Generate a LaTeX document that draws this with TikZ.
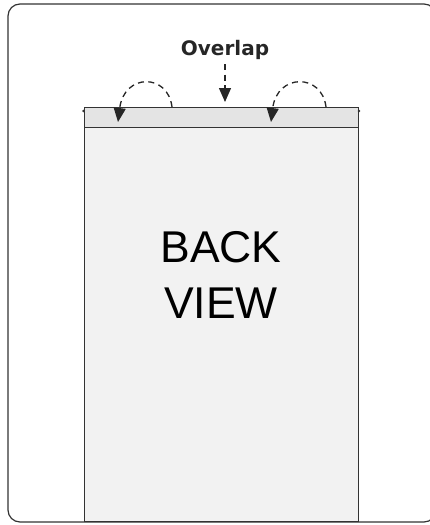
\documentclass[tikz,border=0pt]{standalone}
\usepackage{fontspec}
\setmainfont{Liberation Sans}
\newfontfamily\lblfont{DejaVu Sans}
\usetikzlibrary{arrows.meta}
\definecolor{edge}{HTML}{333333}
\definecolor{panelfill}{HTML}{F2F2F2}
\definecolor{stripfill}{HTML}{E4E4E4}
\begin{document}
\begin{tikzpicture}[x=1pt,y=-1pt,
  frameline/.style={draw=edge,line width=1.2pt,rounded corners=12pt},
  panelbox/.style={draw=edge,line width=1.4pt,fill=panelfill},
  stripbox/.style={draw=edge,line width=1.4pt,fill=stripfill},
  dasharrow/.style={draw=black!85,line width=1.3pt,dash pattern=on 6pt off 4.5pt,-{Triangle[length=14pt,width=12pt]}},
  bigtext/.style={font=\fontsize{44.5}{56}\selectfont,text=black,inner sep=0pt,anchor=base},
  labeltext/.style={font=\lblfont\bfseries\fontsize{20}{22}\selectfont,text=black!85,inner sep=0pt,anchor=base}
]
\useasboundingbox (0,0) rectangle (429,525);
\draw[frameline] (8,4) rectangle (436,522);
\node[panelbox,minimum width=274pt,minimum height=414pt,inner sep=0pt,anchor=north west] (panel) at (84,107) {};
\node[stripbox,minimum width=274pt,minimum height=20pt,inner sep=0pt,anchor=north west] (strip) at (84,107) {};
\fill[edge] (83.5,111) circle (1.3pt);
\fill[edge] (359,111) circle (1.3pt);
\node[labeltext] (overlap) at (225,55) {Overlap};
\node[bigtext] (back) at (221,262) {BACK};
\node[bigtext] (view) at (221,318) {VIEW};
\coordinate (c0) at (225,64);
\coordinate (c1) at (225,102);
\coordinate (l0) at (172,107);
\coordinate (l1) at (118,122);
\coordinate (r0) at (326,107);
\coordinate (r1) at (271,122);
\draw[dasharrow] (c0) -- (c1);
\draw[dasharrow] (l0) .. controls (168,73) and (124,73) .. (l1);
\draw[dasharrow] (r0) .. controls (322,73) and (277,73) .. (r1);
\end{tikzpicture}
\end{document}
